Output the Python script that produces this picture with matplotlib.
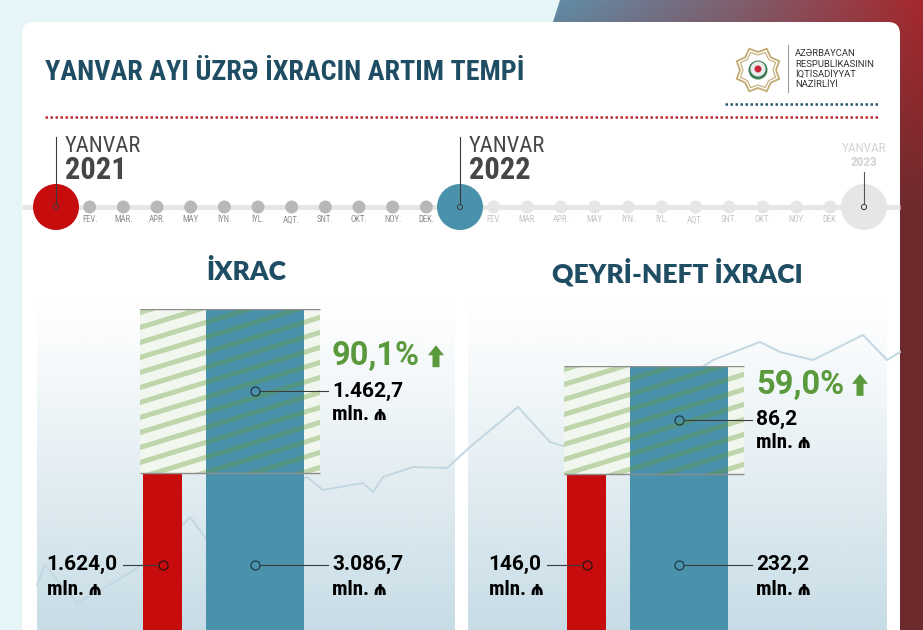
import numpy as np
import matplotlib.pyplot as plt
import matplotlib.patches as mpatches
from matplotlib.colors import LinearSegmentedColormap, to_rgb

# ── Data ──────────────────────────────────────────────────────────────────────
TITLE = "YANVAR AYI ÜZRƏ İXRACIN ARTIM TEMPİ"
MINISTRY = ["AZƏRBAYCAN", "RESPUBLİKASININ", "İQTİSADİYYAT", "NAZİRLİYİ"]

PANEL_TITLES = ["İXRAC", "QEYRİ-NEFT İXRACI"]
JAN_2021 = [1624.0, 146.0]      # mln. manat
JAN_2022 = [3086.7, 232.2]
INCREASE = [1462.7, 86.2]
GROWTH_PCT = [90.1, 59.0]

YEARS = ["2021", "2022", "2023"]
MONTHS = ["FEV.", "MAR.", "APR.", "MAY", "İYN.", "İYL.", "AQT.", "SNT.", "OKT.", "NOY.", "DEK."]

# faint trend line drawn behind the bars (pixels)
WAVE_X = [37, 45, 77, 113, 150, 190, 207, 250, 307, 323, 363, 373, 383, 413, 447,
          470, 518, 550, 603, 620, 660, 713, 760, 780, 813, 863, 887, 900]
WAVE_Y = [585, 565, 603, 583, 560, 517, 540, 505, 477, 490, 483, 492, 477, 467, 468,
          447, 407, 442, 458, 427, 395, 360, 342, 352, 360, 335, 360, 352]

# ── Style ─────────────────────────────────────────────────────────────────────
W, H = 923, 630
BG_CYAN = "#e6f5f7"
TEAL = "#1f4d63"
RED = "#c70c0e"
BLUE = "#4a91ab"
GREEN = "#5a9a3c"
GREY_TXT = "#464646"
COND = ["Roboto Condensed", "Barlow Semi Condensed", "Noto Sans", "DejaVu Sans"]
NUM = ["Roboto", "Noto Sans", "DejaVu Sans"]
HEAD = ["Lato", "Open Sans", "DejaVu Sans"]


def fmt_num(v):
    s = f"{v:,.1f}"
    return s.replace(",", " ").replace(".", ",").replace(" ", ".")


fig = plt.figure(figsize=(W / 100, H / 100), dpi=100)
fig.patch.set_facecolor(BG_CYAN)
ax = fig.add_axes([0, 0, 1, 1])
ax.set_xlim(0, W)
ax.set_ylim(H, 0)
ax.axis("off")

# ── Top-right gradient corner ────────────────────────────────────────────────
cmap_h = LinearSegmentedColormap.from_list(
    "hdr", ["#88adc2", "#6090ab", "#7f6070", "#a5282d"])
gx0 = 360
xs = np.linspace(0, 1, W - gx0)
ys = np.linspace(0, H, H)
top = cmap_h(xs)[:, :3]
maroon = np.array(to_rgb("#6c2a2d"))
t = np.clip(ys / 220.0, 0, 1)[:, None, None]
grad = top[None, :, :] * (1 - t) + maroon[None, None, :] * t
im = ax.imshow(grad, extent=(gx0, W, H, 0), origin="upper", zorder=0, aspect="auto")
clip = mpatches.Polygon([(560, 0), (W, 0), (W, H), (360, H)], closed=True,
                        transform=ax.transData, fc="none", ec="none")
ax.add_patch(clip)
im.set_clip_path(clip)

# ── White card ────────────────────────────────────────────────────────────────
ax.add_patch(mpatches.FancyBboxPatch((22, 22), 878, 700,
                                     boxstyle="round,pad=0,rounding_size=12",
                                     fc="white", ec="none", zorder=1))

# ── Header ────────────────────────────────────────────────────────────────────
ax.text(45, 72, TITLE, family=COND, weight="bold", fontsize=20.2, color=TEAL,
        va="center", ha="left", zorder=5)
ax.plot([45, 880], [117, 117], color="#c0282d", lw=1.8, ls=(0, (1, 1)), zorder=5)
ax.plot([725, 880], [104, 104], color="#2c5a6e", lw=1.8, ls=(0, (1, 1)), zorder=5)

# emblem
cx, cy = 758, 70
ang = np.linspace(0, 2 * np.pi, 17)[:-1] + np.pi / 8
for ro, ri, lw in [(23, 18, 1.3), (19, 15, 0.8)]:
    rr = np.where(np.arange(16) % 2 == 0, ro, ri)
    pts = np.c_[cx + rr * np.cos(ang), cy + rr * np.sin(ang)]
    ax.add_patch(mpatches.Polygon(pts, closed=True, fc="none", ec="#c2aa72", lw=lw, zorder=5))
ax.add_patch(mpatches.Circle((cx, cy), 9.5, fc="#3f7d55", ec="none", zorder=6))
ax.add_patch(mpatches.Circle((cx, cy - 1), 7.5, fc="#e9ecea", ec="none", zorder=6))
ax.add_patch(mpatches.Circle((cx, cy - 1), 3.5, fc="#c8283a", ec="none", zorder=7))
ax.plot([788, 788], [45, 92], color="#a0a0a0", lw=0.8, zorder=5)
for k, line in enumerate(MINISTRY):
    ax.text(795, 54 + k * 10.3, line, family=NUM, fontsize=6.8, color="#333333",
            va="center", ha="left", zorder=5)

# ── Timeline ──────────────────────────────────────────────────────────────────
TL_Y = 207
tl_x = np.linspace(56, 864, 25)
ax.plot([22, 900], [TL_Y, TL_Y], color="#e6e6e6", lw=3.5, solid_capstyle="butt", zorder=2)
year_cols = [RED, BLUE, "#e6e6e6"]
for i, x in enumerate(tl_x):
    yi, m = divmod(i, 12)
    if m == 0:
        ax.add_patch(mpatches.Circle((x, TL_Y), 23, fc=year_cols[yi], ec="none", zorder=3))
        ax.add_patch(mpatches.Circle((x, TL_Y), 2.6, fc="none", ec="#3a3a3a", lw=0.7, zorder=4))
    else:
        dot_col = "#b8b8b8" if yi == 0 else "#e6e6e6"
        lab_col = "#8c8c8c" if yi == 0 else "#c4c4c4"
        ax.add_patch(mpatches.Circle((x, TL_Y), 6.5, fc=dot_col, ec="none", zorder=3))
        ax.text(x, 220, MONTHS[m - 1], family=COND, fontsize=6.3, color=lab_col,
                ha="center", va="center", zorder=4)

for yi in range(2):
    x = tl_x[yi * 12]
    ax.plot([x, x], [TL_Y - 2.6, 137], color="#3a3a3a", lw=0.8, zorder=4)
    ax.text(x + 9, 146, "YANVAR", family=COND, fontsize=16.2, color=GREY_TXT,
            ha="left", va="center", zorder=4)
    ax.text(x + 9, 170, YEARS[yi], family=COND, weight="bold", fontsize=22,
            color=GREY_TXT, ha="left", va="center", zorder=4)
x = tl_x[24]
ax.plot([x, x], [TL_Y - 2.6, 172], color="#555555", lw=0.8, zorder=4)
ax.text(x, 148.5, "YANVAR", family=COND, fontsize=9.5, color="#d4d4d4",
        ha="center", va="center", zorder=4)
ax.text(x, 162.5, YEARS[2], family=COND, weight="bold", fontsize=9.5, color="#d4d4d4",
        ha="center", va="center", zorder=4)

# ── Panel backgrounds + faint trend line ──────────────────────────────────────
PANEL_BOX = [(37, 455), (468, 887)]
PANEL_TOP = 300
gy = np.linspace(0, 1, 200)
bg = np.zeros((200, 1, 4))
bg[:, 0, :3] = to_rgb("#c7dce6")
bg[:, 0, 3] = np.clip(gy, 0, 1) ** 1.1
for x0, x1 in PANEL_BOX:
    ax.imshow(bg, extent=(x0, x1, H, PANEL_TOP), origin="upper", aspect="auto", zorder=2)
ax.plot(WAVE_X, WAVE_Y, color="#c2d7e1", lw=1.4, zorder=2.5)

for i, (x0, x1) in enumerate(PANEL_BOX):
    ax.text((x0 + x1) / 2, 272, PANEL_TITLES[i], family=HEAD, weight="heavy",
            fontsize=19, color=TEAL, ha="center", va="center", zorder=5)

# ── Bar panels ───────────────────────────────────────────────────────────────
BASE_PX = 656                   # baseline (zero) sits just below the picture
BAR_TOP_PX = [309, 366]         # pixel where the Jan-2022 bar ends
PANEL_LEFT = [37, 461]
PW = 418
RED_X, RED_W = 125.5, 39
BLUE_X, BLUE_W = 218, 98
HB_X0, HB_X1 = 103, 283
TXT_X = 295
renderer = fig.canvas.get_renderer()
to_px = ax.transData.inverted()

for i in range(2):
    v21, v22, inc = JAN_2021[i], JAN_2022[i], INCREASE[i]
    pax = fig.add_axes([PANEL_LEFT[i] / W, 1 - BASE_PX / H, PW / W,
                        (BASE_PX - BAR_TOP_PX[i]) / H])
    pax.set_xlim(0, PW)
    pax.set_ylim(0, v22)
    pax.axis("off")
    pax.patch.set_alpha(0)

    # hatched "increase" box
    hb = mpatches.Rectangle((HB_X0, v21), HB_X1 - HB_X0, v22 - v21,
                            fc="#f1f6ee", ec="none", zorder=1)
    pax.add_patch(hb)
    pax.bar([RED_X, BLUE_X], [v21, v22], width=[RED_W, BLUE_W],
            color=[RED, BLUE], zorder=2)

    (hx0, hy1), (hx1, hy0) = to_px.transform(pax.transData.transform([(HB_X0, v21), (HB_X1, v22)]))
    slope = np.tan(np.radians(17))
    for yy in np.arange(hy0 - 10, hy1 + (hx1 - hx0) * slope + 15, 15):
        ln, = pax.plot([hx0 - 5, hx1 + 5],
                       [yy, yy - (hx1 - hx0 + 10) * slope],
                       color="#629c34", alpha=0.35, lw=3.6, transform=ax.transData,
                       solid_capstyle="butt", zorder=3)
        ln.set_clip_path(hb)
    pax.hlines([v21, v22], HB_X0, HB_X1, color="#8c8c8c", lw=1.0, zorder=4)

    # increase label
    mid = (v21 + v22) / 2
    pax.plot([BLUE_X], [mid], "o", ms=6.5, mfc="none", mec="#1d3a48", mew=0.9, zorder=6)
    pax.plot([BLUE_X + 5, TXT_X - 4], [mid, mid], color="#3c3c3c", lw=0.8, zorder=6)
    pax.text(TXT_X, mid, fmt_num(inc), family=NUM, weight="bold", fontsize=15,
             color="black", ha="left", va="center", zorder=6)
    pax.annotate("mln. ₼", xy=(TXT_X, mid), xytext=(0, -23), textcoords="offset pixels",
                 family=COND, weight="bold", fontsize=15, color="black",
                 ha="left", va="center", zorder=6)
    pct = f"{GROWTH_PCT[i]:.1f}%".replace(".", ",")
    pax.annotate(pct, xy=(TXT_X, mid), xytext=(0, 35), textcoords="offset pixels",
                 family=NUM, weight="bold", fontsize=23.5, color=GREEN,
                 ha="left", va="center", zorder=6)
    ax_x, ax_y = to_px.transform(pax.transData.transform((TXT_X, mid)))
    acx, aty = ax_x + 104, ax_y - 46
    arrow = [(acx, aty), (acx + 8, aty + 10), (acx + 3.5, aty + 10), (acx + 3.5, aty + 22),
             (acx - 3.5, aty + 22), (acx - 3.5, aty + 10), (acx - 8, aty + 10)]
    pax.add_patch(mpatches.Polygon(arrow, closed=True, fc=GREEN, ec="none",
                                   transform=ax.transData, zorder=6))

    # Jan 2022 total
    low = v21 / 2
    pax.plot([BLUE_X], [low], "o", ms=6.5, mfc="none", mec="#1d3a48", mew=0.9, zorder=6)
    pax.plot([BLUE_X + 5, TXT_X - 4], [low, low], color="#3c3c3c", lw=0.8, zorder=6)
    pax.text(TXT_X, low, fmt_num(v22), family=NUM, weight="bold", fontsize=15,
             color="black", ha="left", va="center", zorder=6)
    pax.annotate("mln. ₼", xy=(TXT_X, low), xytext=(0, -25), textcoords="offset pixels",
                 family=COND, weight="bold", fontsize=15, color="black",
                 ha="left", va="center", zorder=6)

    # Jan 2021 total (left side)
    pax.plot([RED_X], [low], "o", ms=6.5, mfc="none", mec="#2a1010", mew=0.9, zorder=6)
    pax.plot([86, RED_X - 5], [low, low], color="#3c3c3c", lw=0.8, zorder=6)
    t21 = pax.text(80, low, fmt_num(v21), family=NUM, weight="bold", fontsize=15,
                   color="black", ha="right", va="center", zorder=6)
    bb = t21.get_window_extent(renderer=renderer)
    lx = pax.transData.inverted().transform((bb.x0, 0))[0]
    pax.annotate("mln. ₼", xy=(lx, low), xytext=(1, -25), textcoords="offset pixels",
                 family=COND, weight="bold", fontsize=15, color="black",
                 ha="left", va="center", zorder=6)

fig.savefig("out.png", dpi=100, facecolor=fig.get_facecolor())
